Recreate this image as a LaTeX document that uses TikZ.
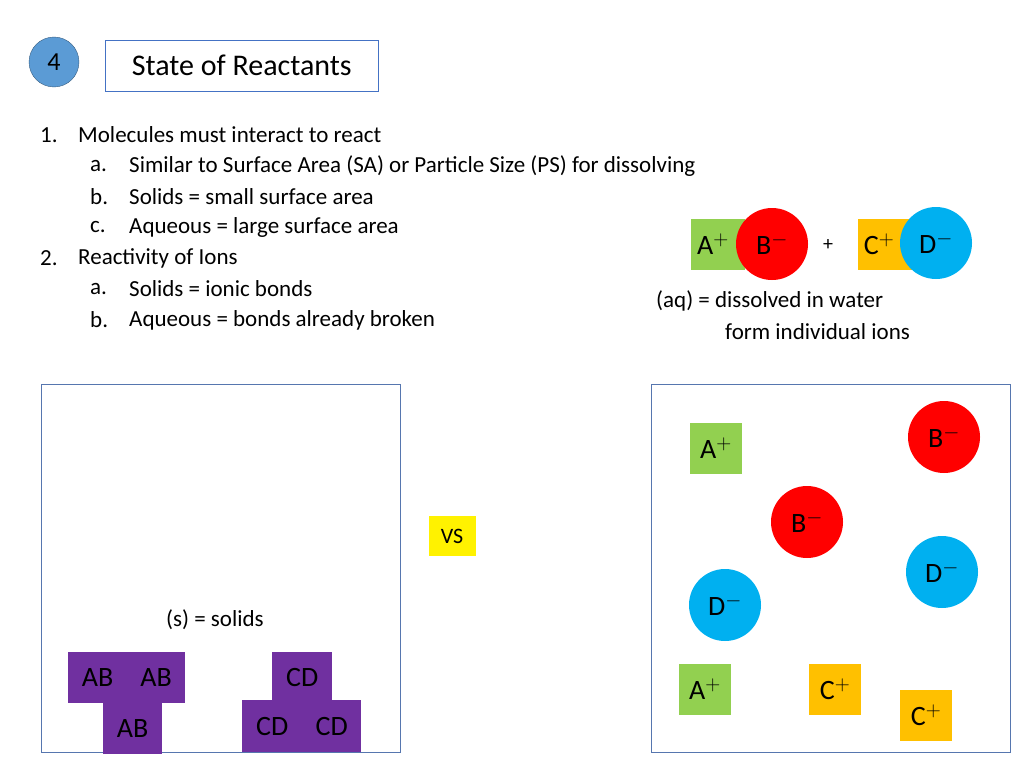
\documentclass[tikz,border=0pt]{standalone}
\usepackage{fontspec}
\setmainfont{Carlito}
\definecolor{grn}{HTML}{92D050}
\definecolor{org}{HTML}{FFC000}
\definecolor{cyn}{HTML}{00B0F0}
\definecolor{pur}{HTML}{7030A0}
\definecolor{bord}{HTML}{4472C4}
\definecolor{cblue}{HTML}{5B9BD5}
\begin{document}
\begin{tikzpicture}[x=1pt,y=-1pt,
  txt/.style={anchor=west,inner sep=0,font=\fontsize{23}{23}\selectfont},
  ion/.style={font=\fontsize{28}{28}\selectfont,inner sep=0},
  sq/.style={ion,minimum width=52pt,minimum height=51pt},
  circ/.style={ion,circle,minimum size=72pt},
  pb/.style={ion,fill=pur,minimum width=59pt,minimum height=51pt,anchor=north west}]
\useasboundingbox (0,0) rectangle (1024,768);
\node[circle,fill=cblue,draw=cblue!60!black,minimum size=50pt,inner sep=0,font=\fontsize{26}{26}\selectfont] (n4) at (54,62) {4};
\node[draw=bord,minimum width=273pt,minimum height=51pt,anchor=north west,inner sep=0,font=\fontsize{30}{30}\selectfont] (title) at (105,40) {State of Reactants};
\node[txt] (l1) at (40,135) {1.};
\node[txt] (l1t) at (78,135) {Molecules must interact to react};
\node[txt] (la) at (90,166) {a.};
\node[txt] at (129,166) {Similar to Surface Area (SA) or Particle Size (PS) for dissolving};
\node[txt] at (90,197) {b.};
\node[txt] at (129,197) {Solids = small surface area};
\node[txt] at (90,227) {c.};
\node[txt] at (129,227) {Aqueous = large surface area};
\node[txt] at (40,258) {2.};
\node[txt] at (78,258) {Reactivity of Ions};
\node[txt] at (90,289) {a.};
\node[txt] at (129,289) {Solids = ionic bonds};
\node[txt] at (90,320) {b.};
\node[txt] at (129,320) {Aqueous = bonds already broken};
% top right
\node[sq,fill=grn,minimum width=54pt] (ta) at (718,244) {A$^{+}$\hspace*{10pt}};
\node[circ,fill=red] (tb) at (772,244) {B$^{-}$};
\node[ion,font=\fontsize{20}{20}\selectfont] (plus) at (828,245) {+};
\node[sq,fill=org,minimum width=54pt] (tc) at (885,244) {\hspace*{-12pt}C$^{+}$};
\node[circ,fill=cyn] (td) at (936,243) {D$^{-}$};
\node[txt] (aq1) at (656,301) {(aq) = dissolved in water};
\node[txt] (aq2) at (725,332) {form individual ions};
% boxes
\draw[bord!70!gray,line width=1pt] (41,384) rectangle (400,752);
\draw[bord!70!gray,line width=1pt] (651,384) rectangle (1010,752);
\node[ion,fill=yellow,minimum width=47pt,minimum height=40pt,font=\fontsize{22}{22}\selectfont] (vs) at (452,536) {VS};
\node[txt] (sol) at (166,620) {(s) = solids};
\node[pb] (ab1) at (68,652) {AB};
\node[pb,minimum width=58pt] (ab2) at (127,652) {AB};
\node[pb] (ab3) at (103,703) {AB};
\node[pb,minimum width=60pt] (cd1) at (272,652) {CD};
\node[pb,minimum width=60pt,minimum height=52pt] (cd2) at (242,700) {CD};
\node[pb,minimum height=52pt] (cd3) at (302,700) {CD};
% right box ions
\node[sq,fill=grn] (a1) at (716,448) {A$^{+}$};
\node[circ,fill=red] (b1) at (944,437) {B$^{-}$};
\node[circ,fill=red] (b2) at (807,522) {B$^{-}$};
\node[circ,fill=cyn] (d1) at (942,572) {D$^{-}$};
\node[circ,fill=cyn] (d2) at (725,605) {D$^{-}$};
\node[sq,fill=grn] (a2) at (705,689) {A$^{+}$};
\node[sq,fill=org] (c1) at (835,689) {C$^{+}$};
\node[sq,fill=org] (c2) at (926,715) {C$^{+}$};
\end{tikzpicture}
\end{document}
